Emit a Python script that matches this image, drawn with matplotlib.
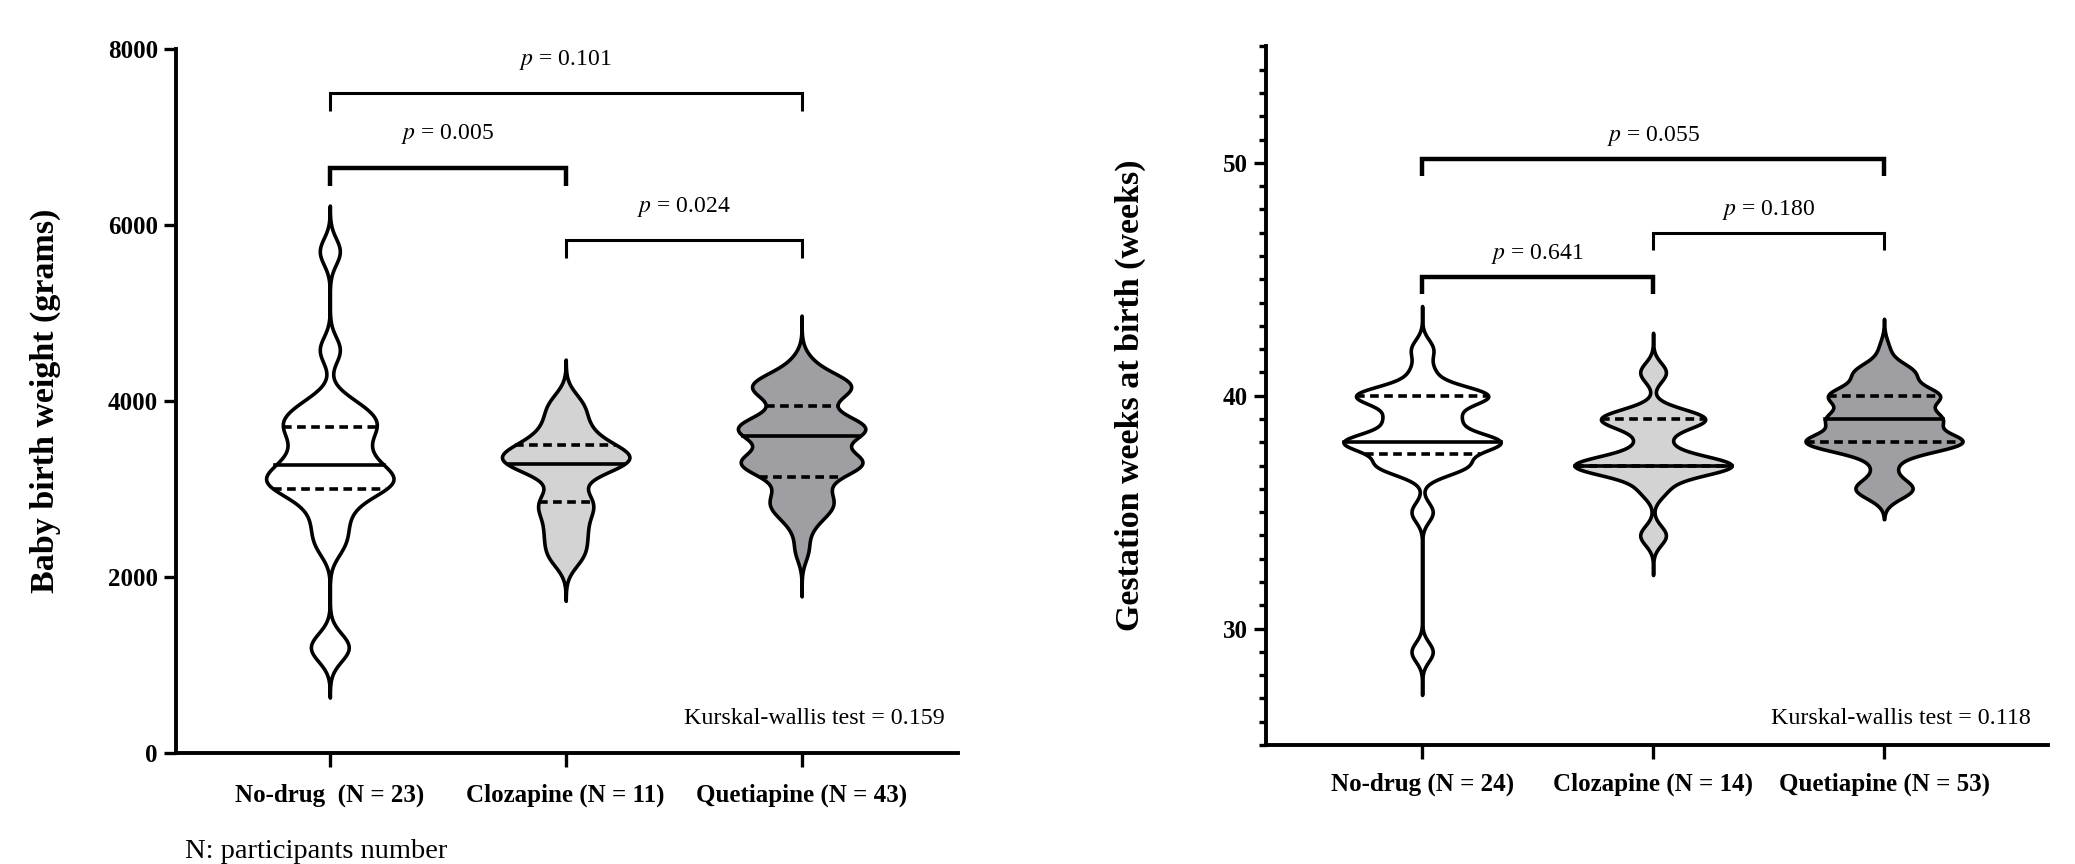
import numpy as np
import matplotlib
matplotlib.use('Agg')
import matplotlib.pyplot as plt

plt.rcParams['font.family'] = ['Liberation Serif', 'DejaVu Serif']
plt.rcParams['mathtext.fontset'] = 'stix'

# groups
groups_w = ['No-drug  (N = 23)', 'Clozapine (N = 11)', 'Quetiapine (N = 43)']
groups_g = ['No-drug (N = 24)', 'Clozapine (N = 14)', 'Quetiapine (N = 53)']

# baby birth weight (grams)
weight_nodrug = [1150, 1250, 2350, 2550, 2750, 2900, 3000, 3050, 3100, 3100, 3150, 3250,
                 3300, 3400, 3500, 3600, 3700, 3750, 3800, 3900, 4000, 4580, 5700]
weight_cloz = [2250, 2500, 2750, 2900, 3250, 3300, 3350, 3400, 3500, 3700, 3950]
weight_quet = [2300, 2550, 2700, 2750, 2800, 2850, 2900, 2950, 3050,
               3150, 3200, 3250, 3250, 3300, 3300, 3300, 3350, 3350, 3350, 3400,
               3550, 3600, 3650, 3650, 3650, 3700, 3700, 3700, 3700, 3750, 3800, 3850,
               3950, 4050, 4100, 4150, 4150, 4150, 4200, 4200, 4250, 4300,
               4450]
weight_q1 = [3000, 2850, 3140]
weight_med = [3270, 3280, 3600]
weight_q3 = [3700, 3500, 3940]

# gestation weeks at birth
weeks_nodrug = [29, 35, 37, 37, 37, 37, 38, 38, 38, 38, 38, 38, 38,
                39, 39, 39, 40, 40, 40, 40, 40, 40, 41, 42]
weeks_cloz = [34, 36, 37, 37, 37, 37, 37, 37, 38, 39, 39, 39, 39, 41]
weeks_quet = [36] * 6 + [37] * 2 + [38] * 16 + [39] * 11 + [40] * 11 + [41] * 6 + [42] * 1
weeks_q1 = [37.5, 37, 38]
weeks_med = [38, 37, 39]
weeks_q3 = [40, 39, 40]

# pairwise p values: (group a, group b, label)
p_weight = [(0, 2, 'p = 0.101'), (0, 1, 'p = 0.005'), (1, 2, 'p = 0.024')]
p_weeks = [(0, 2, 'p = 0.055'), (1, 2, 'p = 0.180'), (0, 1, 'p = 0.641')]
kw_weight = 0.159
kw_weeks = 0.118

fills = ['white', '#d3d3d3', '#9f9fa3']


def kde(vals, grid, bw):
    v = np.asarray(vals, dtype=float)[:, None]
    return np.exp(-0.5 * ((grid[None, :] - v) / bw) ** 2).sum(axis=0)


def violin(ax, pos, vals, q1, med, q3, bw, ext, half, color):
    grid = np.linspace(min(vals) - ext, max(vals) + ext, 800)
    d = kde(vals, grid, bw)
    w = d / d.max() * half
    ax.fill_betweenx(grid, pos - w, pos + w, facecolor=color, edgecolor='black',
                     lw=2.6, zorder=2)
    for q, ls in [(q1, (0, (2.4, 1.5))), (q3, (0, (2.4, 1.5))), (med, '-')]:
        wq = np.interp(q, grid, w)
        ax.plot([pos - wq, pos + wq], [q, q], color='black', lw=2.6, ls=ls, zorder=3)


def bracket(ax, a, b, ytop, leg, label, lw, dy):
    ax.plot([a, a, b, b], [ytop - leg, ytop, ytop, ytop - leg], color='black', lw=lw,
            solid_capstyle='butt', solid_joinstyle='miter', zorder=3)
    txt = label.replace('p', '$p$', 1)
    ax.text((a + b) / 2, ytop + dy, txt, ha='center', va='center', fontsize=17)


def style(ax, xpad):
    for s in ['top', 'right']:
        ax.spines[s].set_visible(False)
    for s in ['left', 'bottom']:
        ax.spines[s].set_linewidth(2.8)
    ax.tick_params(axis='both', which='major', width=2.4, length=9, direction='out')
    ax.tick_params(axis='x', length=10, pad=xpad)
    ax.tick_params(axis='y', pad=4, labelsize=18)
    for t in ax.get_yticklabels():
        t.set_fontweight('bold')


fig = plt.figure(figsize=(20.75, 8.64), dpi=100)

# left: birth weight
ax1 = fig.add_axes([176 / 2075, 1 - 753 / 864, 782 / 2075, 704 / 864])
bws = [150, 150, 130]
for i, (vals, c) in enumerate(zip([weight_nodrug, weight_cloz, weight_quet], fills)):
    violin(ax1, i, vals, weight_q1[i], weight_med[i], weight_q3[i], bws[i], 520, 0.27, c)
ax1.set_xlim(-0.652, 2.663)
ax1.set_ylim(0, 8000)
ax1.set_yticks([0, 2000, 4000, 6000, 8000])
ax1.set_xticks([0, 1, 2])
ax1.set_xticklabels(groups_w, fontsize=18, fontweight='bold')
style(ax1, 12)
ax1.set_ylabel('Baby birth weight (grams)', fontsize=24.5, fontweight='bold')
ax1.yaxis.set_label_coords(-0.147, 0.5)
tops_w = [7500, 6650, 5830]
for (a, b, lab), yt, lw in zip(p_weight, tops_w, [2.2, 3.2, 2.2]):
    bracket(ax1, a, b, yt, 210, lab, lw, 380)
ax1.text(2.607, 391, f'Kurskal-wallis test = {kw_weight}', ha='right', va='center',
         fontsize=17.3)

# right: gestation weeks
ax2 = fig.add_axes([1266 / 2075, 1 - 745 / 864, 782 / 2075, 698.6 / 864])
for i, (vals, c) in enumerate(zip([weeks_nodrug, weeks_cloz, weeks_quet], fills)):
    ext = [1.85, 1.7, 1.3][i]
    violin(ax2, i, vals, weeks_q1[i], weeks_med[i], weeks_q3[i], 0.42, ext, 0.34, c)
ax2.set_xlim(-0.676, 2.71)
ax2.set_ylim(25, 55)
ax2.set_yticks([30, 40, 50])
ax2.set_yticks([v for v in range(25, 56) if v % 10], minor=True)
ax2.set_xticks([0, 1, 2])
ax2.set_xticklabels(groups_g, fontsize=18, fontweight='bold')
style(ax2, 10)
ax2.tick_params(axis='y', which='minor', width=2.4, length=5)
ax2.set_ylabel('Gestation weeks at birth (weeks)', fontsize=24.5, fontweight='bold')
ax2.yaxis.set_label_coords(-0.153, 0.5)
tops_g = [50.17, 46.99, 45.1]
for (a, b, lab), yt, lw in zip(p_weeks, tops_g, [3.2, 2.2, 3.2]):
    bracket(ax2, a, b, yt, 0.75, lab, lw, 1.0)
ax2.text(2.636, 26.14, f'Kurskal-wallis test = {kw_weeks}', ha='right', va='center',
         fontsize=17.3)

fig.text(185 / 2075, 1 - 851 / 864, 'N: participants number', va='center', fontsize=20.5)

fig.savefig('out.png', dpi=100)
plt.close(fig)
